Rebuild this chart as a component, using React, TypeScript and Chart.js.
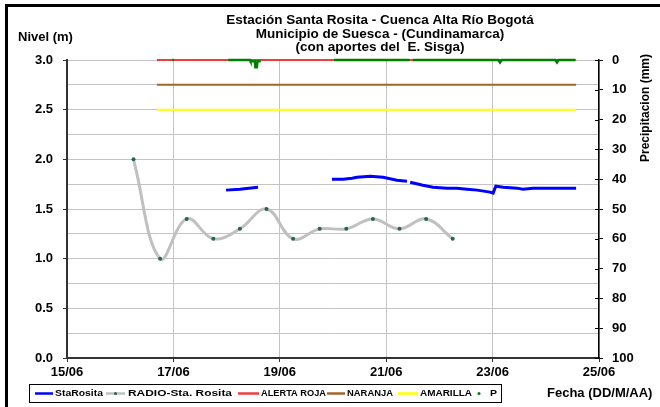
import React, { useEffect, useRef } from 'react';
import { Chart, registerables } from 'chart.js';

Chart.register(...registerables);

const FONT = '"Liberation Sans", Arial, Helvetica, sans-serif';

// ---------- text ----------
const titleLines = [
  'Estación Santa Rosita - Cuenca Alta Río Bogotá',
  'Municipio de Suesca - (Cundinamarca)',
  '(con aportes del  E. Sisga)',
];
const leftAxisTitle = 'Nivel (m)';
const rightAxisTitle = 'Precipitacion (mm)';
const xAxisTitle = 'Fecha (DD/M/AA)';
const xTickLabels = ['15/06', '17/06', '19/06', '21/06', '23/06', '25/06'];

// ---------- data (x = days after 15/06 00:00) ----------
const staDays = [2.99, 3.25, 3.59, 4.3, 4.98, 5.19, 5.36, 5.45, 5.70, 5.94, 6.20, 6.39, 6.42, 6.45, 6.69, 6.88, 7.14, 7.33, 7.52, 7.71, 7.95, 8.01, 8.06, 8.20, 8.46, 8.57, 8.76, 9.57];
const staLevels = [1.69, 1.70, 1.72, null, 1.80, 1.80, 1.81, 1.82, 1.83, 1.82, 1.79, 1.78, null, 1.77, 1.74, 1.72, 1.71, 1.71, 1.70, 1.69, 1.67, 1.66, 1.73, 1.72, 1.71, 1.70, 1.71, 1.71];

const radioDays = [1.25, 1.75, 2.25, 2.75, 3.25, 3.75, 4.25, 4.75, 5.25, 5.75, 6.25, 6.75, 7.25];
const radioLevels = [2.0, 1.0, 1.4, 1.2, 1.3, 1.5, 1.2, 1.3, 1.3, 1.4, 1.3, 1.4, 1.2];

const thresholdDays = [1.69, 9.57];
const alertaRoja = [3.0, 3.0];
const naranja = [2.75, 2.75];
const amarilla = [2.5, 2.5];

const pDays = [1.98, 2.01, 2.5, 3.03, 3.44, 3.45, 3.53, 3.54, 3.57, 3.58, 3.62, 3.63, 4.5, 5.02, 6.44, 6.47, 6.50, 8.11, 8.14, 8.17, 9.18, 9.21, 9.24, 9.55];
const pValues = [0, 0, null, 0, 0, 0.4, 0.4, 2.4, 2.4, 0.4, 0.4, 0, null, 0, 0, null, 0, 0, 0.8, 0, 0, 0.8, 0, 0];

const zip = (xs: number[], ys: (number | null)[]) => xs.map((x, i) => ({ x, y: ys[i] }));

// legend slot layout: line start, line end, text start, text width
const legendSlots = [
  { l0: 35, l1: 53, tx: 55, tw: 48 },
  { l0: 106, l1: 125, tx: 128, tw: 104 },
  { l0: 238, l1: 259, tx: 261, tw: 65 },
  { l0: 327, l1: 345, tx: 347, tw: 46 },
  { l0: 398, l1: 418, tx: 420, tw: 52 },
  { l0: 479, l1: 479, tx: 490, tw: 7 },
];

function fitText(ctx: CanvasRenderingContext2D, text: string, x: number, y: number, w: number) {
  const m = ctx.measureText(text).width;
  ctx.save();
  ctx.translate(x, y);
  ctx.scale(w / m, 1);
  ctx.fillText(text, 0, 0);
  ctx.restore();
}

const decor = {
  id: 'decor',
  beforeDraw(chart: any) {
    const ctx = chart.ctx;
    ctx.save();
    ctx.fillStyle = '#fff';
    ctx.fillRect(0, 0, chart.width, chart.height);
    ctx.restore();
  },
  afterDraw(chart: any) {
    const ctx: CanvasRenderingContext2D = chart.ctx;
    ctx.save();
    // right axis inward tick marks
    const y2 = chart.scales.y2;
    ctx.strokeStyle = '#000';
    ctx.lineWidth = 1;
    y2.ticks.forEach((t: any) => {
      const py = Math.round(y2.getPixelForValue(t.value)) + 0.5;
      ctx.beginPath();
      ctx.moveTo(y2.left - 4, py);
      ctx.lineTo(y2.left, py);
      ctx.stroke();
    });

    ctx.fillStyle = '#000';
    ctx.textBaseline = 'middle';
    // title
    ctx.textAlign = 'center';
    ctx.font = `bold 13.5px ${FONT}`;
    titleLines.forEach((t, i) => ctx.fillText(t, 380, 20.5 + i * 13.3));
    // axis titles
    ctx.font = `bold 13px ${FONT}`;
    ctx.textAlign = 'left';
    ctx.fillText(leftAxisTitle, 18, 37.5);
    ctx.fillText(xAxisTitle, 547, 393.5);
    ctx.save();
    ctx.translate(646, 108);
    ctx.rotate(-Math.PI / 2);
    ctx.textAlign = 'center';
    ctx.font = `bold 12px ${FONT}`;
    ctx.fillText(rightAxisTitle, 0, 0);
    ctx.restore();

    // legend
    ctx.strokeStyle = '#000';
    ctx.lineWidth = 1;
    ctx.strokeRect(29.5, 384.5, 472, 18);
    const ly = 393.5;
    chart.data.datasets.forEach((ds: any, i: number) => {
      const s = legendSlots[i];
      if (!s) return;
      if (ds.legendKind !== 'dot') {
        ctx.strokeStyle = ds.borderColor;
        ctx.lineWidth = 2.5;
        ctx.beginPath();
        ctx.moveTo(s.l0, ly);
        ctx.lineTo(s.l1, ly);
        ctx.stroke();
      }
      if (ds.legendKind === 'linedot' || ds.legendKind === 'dot') {
        ctx.fillStyle = ds.legendDot;
        ctx.beginPath();
        ctx.arc((s.l0 + s.l1) / 2, ly, 1.5, 0, Math.PI * 2);
        ctx.fill();
      }
      ctx.fillStyle = '#000';
      ctx.font = `bold 9px ${FONT}`;
      ctx.textAlign = 'left';
      fitText(ctx, ds.label, s.tx, ly + 0.5, s.tw);
    });

    // outer frame (top and left)
    ctx.strokeStyle = '#000';
    ctx.lineWidth = 3;
    ctx.beginPath();
    ctx.moveTo(660, 5.5);
    ctx.lineTo(6.5, 5.5);
    ctx.lineTo(6.5, 407);
    ctx.stroke();
    ctx.restore();
  },
};

export default function App() {
  const ref = useRef<HTMLCanvasElement | null>(null);

  useEffect(() => {
    if (!ref.current) return;
    const tickFont = { family: FONT, size: 13, weight: 'bold' as const };
    const gridColor = '#c4c4c4';
    const chart = new Chart(ref.current, {
      type: 'line',
      data: {
        datasets: [
          {
            label: 'StaRosita',
            data: zip(staDays, staLevels),
            borderColor: '#0000ff',
            borderWidth: 3,
            pointRadius: 0,
            tension: 0,
            yAxisID: 'y',
            legendKind: 'line',
          } as any,
          {
            label: 'RADIO-Sta. Rosita',
            data: zip(radioDays, radioLevels),
            borderColor: '#c0c0c0',
            borderWidth: 3,
            pointRadius: 2,
            pointBorderWidth: 0,
            pointBackgroundColor: '#22664e',
            tension: 0.4,
            yAxisID: 'y',
            legendKind: 'linedot',
            legendDot: '#22664e',
          } as any,
          {
            label: 'ALERTA ROJA',
            data: zip(thresholdDays, alertaRoja),
            borderColor: '#f03c3c',
            borderWidth: 2,
            pointRadius: 0,
            clip: false,
            yAxisID: 'y',
            legendKind: 'line',
          } as any,
          {
            label: 'NARANJA',
            data: zip(thresholdDays, naranja),
            borderColor: '#a0652d',
            borderWidth: 2,
            pointRadius: 0,
            yAxisID: 'y',
            legendKind: 'line',
          } as any,
          {
            label: 'AMARILLA',
            data: zip(thresholdDays, amarilla),
            borderColor: '#ffff00',
            borderWidth: 2,
            pointRadius: 0,
            yAxisID: 'y',
            legendKind: 'line',
          } as any,
          {
            label: 'P',
            data: zip(pDays, pValues),
            borderColor: '#008000',
            borderWidth: 2.5,
            pointRadius: 0,
            clip: false,
            order: -1,
            yAxisID: 'y2',
            legendKind: 'dot',
            legendDot: '#008000',
          } as any,
        ],
      },
      options: {
        animation: false,
        responsive: false,
        devicePixelRatio: 1,
        layout: { padding: { top: 60, left: 0, right: 0, bottom: 0 } },
        plugins: {
          legend: { display: false },
          title: { display: false },
          tooltip: { enabled: false },
        },
        scales: {
          x: {
            type: 'linear',
            min: 0,
            max: 10,
            afterFit: (s: any) => { s.height = 49; },
            ticks: {
              stepSize: 2,
              autoSkip: false,
              maxRotation: 0,
              padding: 3,
              color: '#000',
              font: tickFont,
              callback: (v: any) => xTickLabels[Math.round(Number(v) / 2)] ?? '',
            },
            grid: { color: gridColor, lineWidth: 1, tickLength: 4, tickColor: '#333' },
            border: { color: '#333', width: 2 },
          },
          y: {
            type: 'linear',
            position: 'left',
            min: 0,
            max: 3,
            afterFit: (s: any) => { s.width = 67; },
            ticks: {
              stepSize: 0.25,
              autoSkip: false,
              padding: 10,
              color: '#000',
              font: tickFont,
              callback: (v: any) => {
                const n = Number(v);
                return Math.abs(n * 2 - Math.round(n * 2)) < 1e-6 ? n.toFixed(1) : '';
              },
            },
            grid: {
              color: gridColor,
              lineWidth: 1,
              tickLength: 4,
              tickColor: (c: any) => {
                const n = c.tick ? c.tick.value : 0;
                return Math.abs(n * 2 - Math.round(n * 2)) < 1e-6 ? '#333' : 'rgba(0,0,0,0)';
              },
            },
            border: { color: '#333', width: 2 },
          },
          y2: {
            type: 'linear',
            position: 'right',
            min: 0,
            max: 100,
            reverse: true,
            afterFit: (s: any) => { s.width = 61; },
            ticks: {
              stepSize: 10,
              autoSkip: false,
              padding: 9,
              color: '#000',
              font: tickFont,
            },
            grid: { drawOnChartArea: false, tickLength: 4, tickColor: '#000' },
            border: { color: '#000', width: 1.5 },
          },
        },
      } as any,
      plugins: [decor],
    });
    return () => chart.destroy();
  }, []);

  return (
    <div style={{ position: 'fixed', left: 0, top: 0, width: 660, height: 407, background: '#fff' }}>
      <canvas ref={ref} width={660} height={407} style={{ display: 'block', width: 660, height: 407 }} />
    </div>
  );
}
